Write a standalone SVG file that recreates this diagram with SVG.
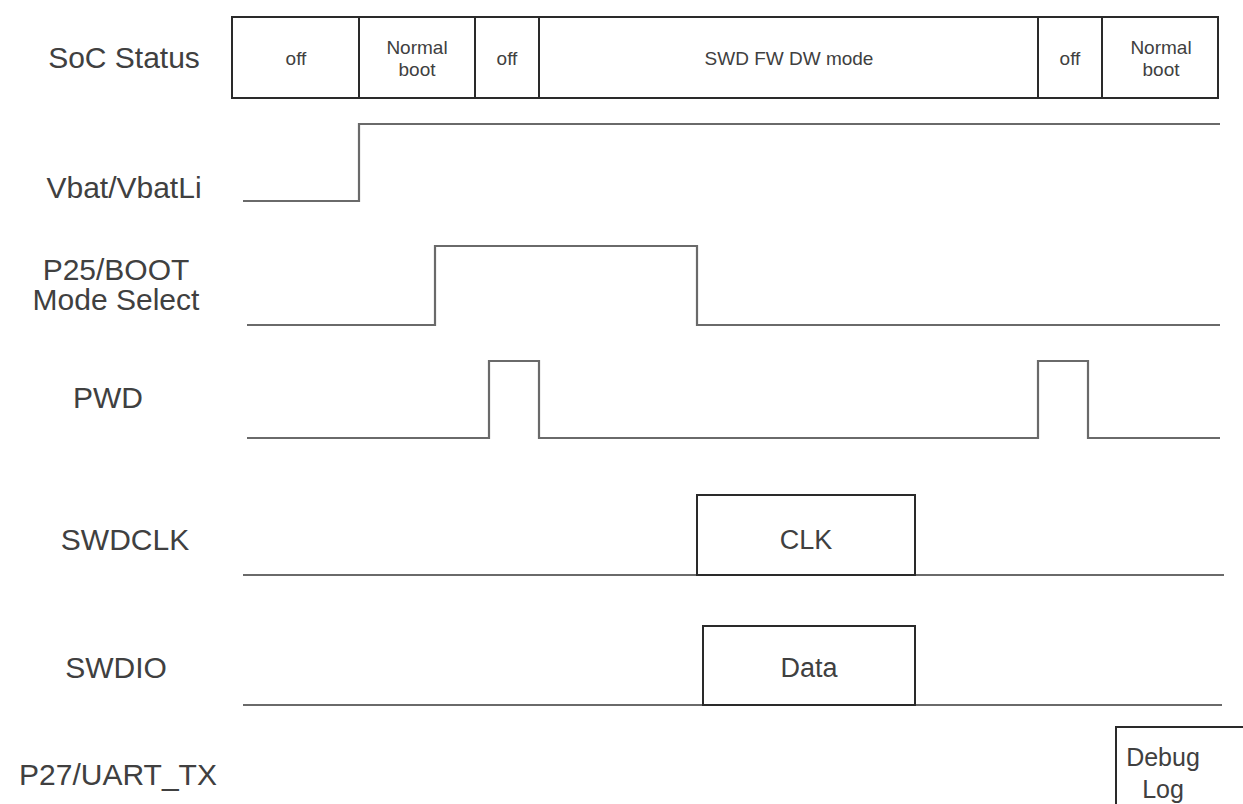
<svg xmlns="http://www.w3.org/2000/svg" width="1243" height="804" viewBox="0 0 1243 804">
<style>
text{font-family:"Liberation Sans",Arial,sans-serif;fill:#404040;text-anchor:middle}
.lbl{font-size:30px}
.st{font-size:19px}
.big{font-size:27px}
.dbg{font-size:25px}
.box{fill:#fff;stroke:#2a2a2a;stroke-width:2}
.sig{fill:none;stroke:#6a6a6a;stroke-width:2.2}
</style>
<rect width="1243" height="804" fill="#fff"/>
<g id="labels">
<text class="lbl" x="124" y="68">SoC Status</text>
<text class="lbl" x="124" y="198">Vbat/VbatLi</text>
<text class="lbl" x="116" y="280">P25/BOOT</text>
<text class="lbl" x="116" y="310">Mode Select</text>
<text class="lbl" x="108" y="408">PWD</text>
<text class="lbl" x="125" y="550">SWDCLK</text>
<text class="lbl" x="116" y="678">SWDIO</text>
<text class="lbl" x="118" y="785">P27/UART_TX</text>
</g>
<g id="soc-status">
<rect class="box" x="232" y="17" width="127" height="81"/>
<text class="st" x="296" y="65">off</text>
<rect class="box" x="359" y="17" width="116" height="81"/>
<text class="st" x="417" y="54">Normal</text>
<text class="st" x="417" y="76">boot</text>
<rect class="box" x="475" y="17" width="64" height="81"/>
<text class="st" x="507" y="65">off</text>
<rect class="box" x="539" y="17" width="499" height="81"/>
<text class="st" x="789" y="65">SWD FW DW mode</text>
<rect class="box" x="1038" y="17" width="64" height="81"/>
<text class="st" x="1070" y="65">off</text>
<rect class="box" x="1102" y="17" width="116" height="81"/>
<text class="st" x="1161" y="54">Normal</text>
<text class="st" x="1161" y="76">boot</text>
</g>
<g id="connectors">
<polyline class="sig" points="243,201 359,201 359,124 1220,124"/>
<polyline class="sig" points="247,325 435,325 435,246 697,246 697,325 1220,325"/>
<polyline class="sig" points="247,438 489,438 489,361 539,361 539,438 1038,438 1038,361 1088,361 1088,438 1220,438"/>
<line class="sig" x1="243" y1="575" x2="1224" y2="575"/>
<line class="sig" x1="243" y1="705" x2="1222" y2="705"/>
</g>
<g id="clk">
<rect class="box" x="697" y="495" width="218" height="80"/>
<text class="big" x="806" y="549">CLK</text>
</g>
<g id="data">
<rect class="box" x="703" y="626" width="212" height="79"/>
<text class="big" x="809" y="677">Data</text>
</g>
<g id="debug-log">
<path class="box" d="M1116,810 L1116,727 L1250,727 L1250,810"/>
<text class="dbg" x="1163" y="766">Debug</text>
<text class="dbg" x="1163" y="798">Log</text>
</g>
</svg>
